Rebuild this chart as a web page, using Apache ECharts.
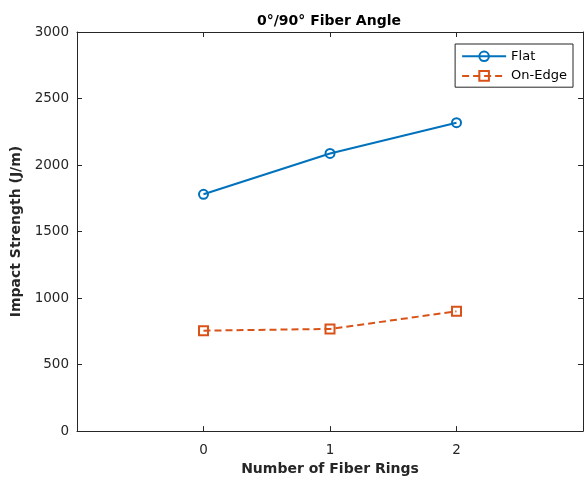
<!DOCTYPE html>
<html>
<head>
<meta charset="utf-8">
<script src="https://cdn.jsdelivr.net/npm/echarts@6/dist/echarts.min.js"></script>
<style>
  html, body { margin: 0; padding: 0; background: #fff; }
  #chart { width: 587px; height: 481px; }
</style>
</head>
<body>
<div id="chart"></div>
<script>
const rings = [0, 1, 2];
const flat = [1780, 2087, 2318];
const onEdge = [755, 768, 900];
const yTicks = [0, 500, 1000, 1500, 2000, 2500, 3000];

const font = 'DejaVu Sans, Verdana, sans-serif';
const axisGrey = '#262626';

const pairs = (xs, ys) => xs.map((x, i) => [x, ys[i]]);

const chart = echarts.init(document.getElementById('chart'));

// box axes: MATLAB draws ticks on all four sides, pointing inward
const boxLine = { show: true, onZero: false, lineStyle: { color: axisGrey, width: 1 } };
const boxTick = { show: true, inside: true, length: 5, lineStyle: { color: axisGrey } };

const option = {
  backgroundColor: '#fff',
  animation: false,
  title: {
    text: '0°/90° Fiber Angle',
    left: 252,
    top: 9,
    textStyle: { fontFamily: font, fontSize: 14, fontWeight: 'bold', color: '#000' },
  },
  legend: {
    orient: 'vertical',
    right: 14,
    top: 44,
    padding: [5, 6, 4, 6],
    itemGap: 5,
    itemWidth: 44,
    itemHeight: 12,
    backgroundColor: '#fff',
    borderColor: axisGrey,
    borderWidth: 1,
    borderRadius: 0,
    textStyle: { fontFamily: font, fontSize: 13, color: '#000' },
    data: ['Flat', 'On-Edge'],
  },
  grid: { left: 77, right: 4, top: 32, bottom: 48 },
  xAxis: [
    {
      type: 'value',
      min: -1,
      max: 3,
      interval: 1,
      name: 'Number of Fiber Rings',
      nameLocation: 'middle',
      nameGap: 30,
      nameTextStyle: { fontFamily: font, fontSize: 14, fontWeight: 'bold', color: axisGrey },
      axisLine: boxLine,
      axisTick: boxTick,
      axisLabel: {
        fontFamily: font, fontSize: 13.5, color: axisGrey, margin: 12,
        formatter: v => (rings.includes(v) ? String(v) : ''),
      },
      splitLine: { show: false },
    },
    {
      type: 'value',
      position: 'top',
      min: -1,
      max: 3,
      interval: 1,
      axisLine: boxLine,
      axisTick: boxTick,
      axisLabel: { show: false },
      splitLine: { show: false },
    },
  ],
  yAxis: [
    {
      type: 'value',
      min: yTicks[0],
      max: yTicks[yTicks.length - 1],
      interval: 500,
      name: 'Impact Strength (J/m)',
      nameLocation: 'middle',
      nameGap: 50,
      nameTextStyle: { fontFamily: font, fontSize: 14, fontWeight: 'bold', color: axisGrey },
      axisLine: boxLine,
      axisTick: boxTick,
      axisLabel: { fontFamily: font, fontSize: 13.5, color: axisGrey, margin: 8, formatter: v => String(v) },
      splitLine: { show: false },
    },
    {
      type: 'value',
      position: 'right',
      min: yTicks[0],
      max: yTicks[yTicks.length - 1],
      interval: 500,
      axisLine: boxLine,
      axisTick: boxTick,
      axisLabel: { show: false },
      splitLine: { show: false },
    },
  ],
  series: [
    {
      name: 'Flat',
      type: 'line',
      data: pairs(rings, flat),
      symbol: 'circle',
      symbolSize: 9,
      showAllSymbol: true,
      lineStyle: { color: '#0072BD', width: 2 },
      itemStyle: { color: 'none', borderColor: '#0072BD', borderWidth: 2 },
    },
    {
      name: 'On-Edge',
      type: 'line',
      data: pairs(rings, onEdge),
      symbol: 'rect',
      symbolSize: 9,
      showAllSymbol: true,
      lineStyle: { color: '#D95319', width: 2, type: [7, 4] },
      itemStyle: { color: 'none', borderColor: '#D95319', borderWidth: 2 },
    },
  ],
};

chart.setOption(option);
</script>
</body>
</html>
